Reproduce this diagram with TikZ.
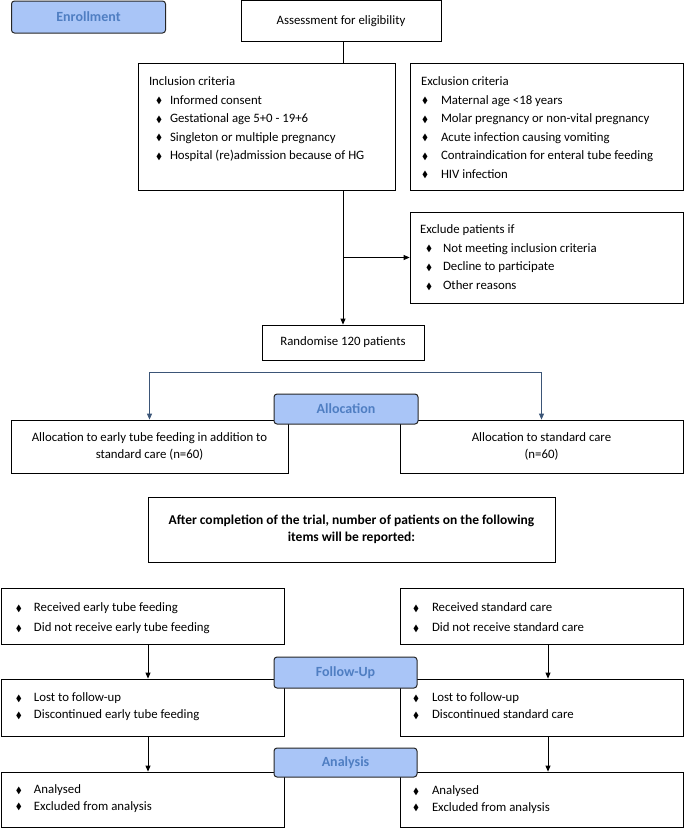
\documentclass[tikz,border=0pt]{standalone}
\usepackage{amssymb}
\usepackage{fontspec}
\setmainfont{Carlito}
\usetikzlibrary{arrows.meta}

\definecolor{stagefill}{HTML}{A9C5F7}
\definecolor{stagetext}{HTML}{4F7EC2}
\definecolor{splitline}{HTML}{3B5577}

% diamond bullet in a box of given width
\newcommand{\bul}[1]{\makebox[#1][l]{\raisebox{0.5pt}{\scalebox{0.7}{$\blacklozenge$}}}}
% width, height, left skip, first baseline, baselineskip, lines
\newcommand{\listtext}[6]{\begin{minipage}[t][#2][t]{#1}\fontsize{12.8pt}{#5}\selectfont
  \leftskip=#3\relax\noindent\rule{0pt}{#4}#6\end{minipage}}

\begin{document}
\begin{tikzpicture}[x=1pt,y=-1pt,
    font=\fontsize{12.8pt}{17pt}\selectfont,
    box/.style={draw,line width=0.8pt,inner sep=0pt,align=center},
    listbox/.style={draw,line width=0.8pt,inner sep=0pt},
    stage/.style={draw=black!85,line width=1pt,rounded corners=3pt,fill=stagefill,
      text=stagetext,inner sep=0pt,font=\fontsize{14pt}{16pt}\selectfont\bfseries}]
\useasboundingbox (0,0) rectangle (685,828);

% enrollment
\node[stage,minimum width=154,minimum height=32] (enroll) at (88.5,17) {Enrollment};
\node[box,minimum width=200,minimum height=41] (assess) at (341,21) {Assessment for eligibility};
\node[listbox] (incl) at (266.5,126.5) {\listtext{257pt}{127pt}{11pt}{22.5pt}{18.5pt}{%
  Inclusion criteria\\
  \hspace*{7pt}\bul{14pt}Informed consent\\
  \hspace*{7pt}\bul{14pt}Gestational age 5+0 - 19+6\\
  \hspace*{7pt}\bul{14pt}Singleton or multiple pregnancy\\
  \hspace*{7pt}\bul{14pt}Hospital (re)admission because of HG}};
\node[listbox] (excl) at (546.5,126.5) {\listtext{273pt}{127pt}{11pt}{22.5pt}{18.5pt}{%
  Exclusion criteria\\
  \hspace*{1pt}\bul{19pt}Maternal age <18 years\\
  \hspace*{1pt}\bul{19pt}Molar pregnancy or non-vital pregnancy\\
  \hspace*{1pt}\bul{19pt}Acute infection causing vomiting\\
  \hspace*{1pt}\bul{19pt}Contraindication for enteral tube feeding\\
  \hspace*{1pt}\bul{19pt}HIV infection}};
\node[listbox] (excpat) at (546.5,257.5) {\listtext{273pt}{91pt}{10pt}{21.5pt}{18.7pt}{%
  Exclude patients if\\
  \hspace*{6pt}\bul{17pt}Not meeting inclusion criteria\\
  \hspace*{6pt}\bul{17pt}Decline to participate\\
  \hspace*{6pt}\bul{17pt}Other reasons}};
\node[box,minimum width=162,minimum height=35] (rand) at (343,342.5) {Randomise 120 patients};

% allocation
\node[box,minimum width=277,minimum height=53] (alloc1) at (149.5,446.5)
  {Allocation to early tube feeding in addition to\\ standard care (n=60)};
\node[box,minimum width=283,minimum height=53] (alloc2) at (541.5,446.5)
  {Allocation to standard care\\ (n=60)};
\node[box,minimum width=407,minimum height=65,font=\fontsize{13.5pt}{17.5pt}\selectfont\bfseries] (after)
  at (351.5,529.5) {After completion of the trial, number of patients on the following\\ items will be reported:};

% follow-up and analysis
\node[listbox] (recL) at (142.5,616) {\listtext{283pt}{56pt}{15pt}{23.5pt}{20pt}{%
  \bul{18pt}Received early tube feeding\\
  \bul{18pt}Did not receive early tube feeding}};
\node[listbox] (recR) at (541.5,616) {\listtext{283pt}{56pt}{13pt}{23.5pt}{20pt}{%
  \bul{19pt}Received standard care\\
  \bul{19pt}Did not receive standard care}};
\node[listbox] (lostL) at (142.5,707.5) {\listtext{283pt}{57pt}{15pt}{22.5pt}{17pt}{%
  \bul{18pt}Lost to follow-up\\
  \bul{18pt}Discontinued early tube feeding}};
\node[listbox] (lostR) at (541.5,707.5) {\listtext{283pt}{57pt}{13pt}{22.5pt}{17pt}{%
  \bul{19pt}Lost to follow-up\\
  \bul{19pt}Discontinued standard care}};
\node[listbox] (anaL) at (142.5,799.5) {\listtext{283pt}{55pt}{15pt}{21.5pt}{16.5pt}{%
  \bul{18pt}Analysed\\
  \bul{18pt}Excluded from analysis}};
\node[listbox] (anaR) at (541.5,799.5) {\listtext{283pt}{55pt}{13pt}{22.5pt}{16.5pt}{%
  \bul{19pt}Analysed\\
  \bul{19pt}Excluded from analysis}};

% connectors
\begin{scope}[>={Triangle[length=6pt,width=5pt]},line width=0.8pt]
  \draw (assess.south -| rand.north) -- (incl.north -| rand.north);
  \draw[->] (incl.south -| rand.north) -- (rand.north);
  \draw[->] (excpat.west -| rand.north) -- (excpat.west);
  \coordinate (split) at (343,372);
  \draw[->,draw=splitline] (split) -| (alloc1.north);
  \draw[->,draw=splitline] (split) -| (alloc2.north);
  \draw[->] ([xshift=5.5pt]recL.south) -- ([xshift=5.5pt]lostL.north);
  \draw[->] ([xshift=6.5pt]recR.south) -- ([xshift=6.5pt]lostR.north);
  \draw[->] ([xshift=5.5pt]lostL.south) -- ([xshift=5.5pt]anaL.north);
  \draw[->] ([xshift=6.5pt]lostR.south) -- ([xshift=6.5pt]anaR.north);
\end{scope}

% stage labels
\node[stage,minimum width=144,minimum height=30] (allocstage) at (346,409) {Allocation};
\node[stage,minimum width=143,minimum height=31] (followstage) at (345.5,672.5) {Follow-Up};
\node[stage,minimum width=143,minimum height=29] (anastage) at (345.5,762.5) {Analysis};
\end{tikzpicture}
\end{document}
